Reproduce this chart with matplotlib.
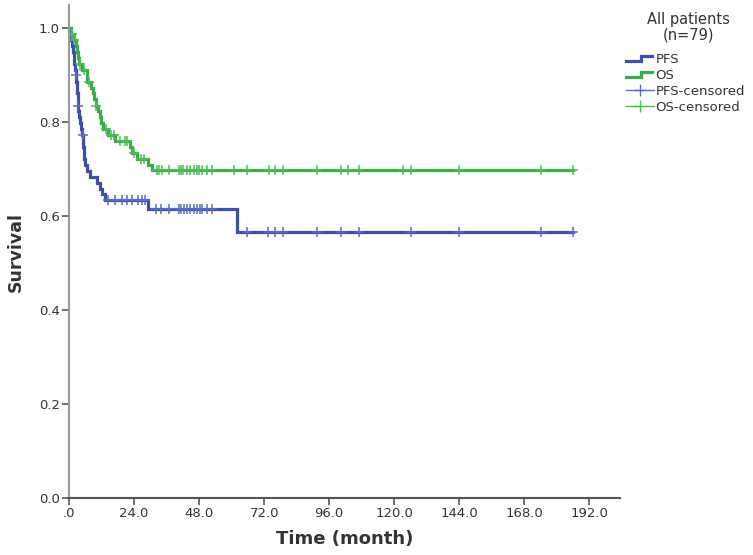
import numpy as np
import matplotlib
matplotlib.use("Agg")
import matplotlib.pyplot as plt
from matplotlib.legend_handler import HandlerBase
from matplotlib.lines import Line2D

# ---- data (months, survival) ----
pfs_times = [0, 0.5, 0.9, 1.2, 1.5, 1.8, 2.0, 2.2, 2.4, 2.6, 2.85, 3.0, 3.2, 3.3, 3.4,
             3.8, 4.2, 4.6, 4.9, 5.1, 5.3, 5.5, 5.7, 5.9, 6.6, 7.6, 10.2, 11.4, 12.3,
             13.2, 29.3, 62.0, 186.0]
pfs_surv = [1.0, 0.987, 0.975, 0.962, 0.949, 0.937, 0.924, 0.911, 0.899, 0.886, 0.873,
            0.861, 0.848, 0.835, 0.823, 0.810, 0.797, 0.785, 0.772, 0.759, 0.747, 0.734,
            0.722, 0.709, 0.696, 0.684, 0.671, 0.658, 0.646, 0.634, 0.615, 0.567, 0.567]
pfs_censored = [0.8, 2.4, 3.3, 5.0, 14.5, 17.0, 19.4, 21.3, 23.1, 25.6, 26.8, 28.0,
                32.1, 33.8, 36.8, 40.7, 41.4, 42.4, 43.4, 44.6, 46.1, 47.1, 48.3, 49.1,
                50.8, 52.8, 65.8, 73.4, 75.9, 78.9, 91.4, 100.5, 106.9, 126.1, 144.0,
                174.0, 186.0]

os_times = [0, 0.8, 1.8, 2.5, 3.0, 3.4, 3.8, 4.8, 6.5, 6.8, 8.0, 8.8, 9.1, 9.8, 10.8,
            11.3, 11.8, 12.6, 14.5, 17.0, 22.5, 23.4, 25.2, 29.0, 30.5, 186.0]
os_surv = [1.0, 0.987, 0.975, 0.962, 0.949, 0.937, 0.924, 0.911, 0.899, 0.886, 0.873,
           0.861, 0.848, 0.835, 0.823, 0.810, 0.797, 0.785, 0.772, 0.759, 0.747, 0.734,
           0.722, 0.709, 0.698, 0.698]
os_censored = [1.0, 2.0, 4.2, 5.5, 7.5, 10.0, 13.5, 15.5, 16.5, 19.0, 20.5, 21.5, 24.0,
               26.5, 27.5, 32.4, 33.3, 34.3, 36.8, 40.7, 41.4, 42.2, 43.4, 44.6, 46.1,
               47.1, 48.1, 49.1, 50.8, 52.8, 60.9, 65.8, 73.7, 76.1, 79.1, 91.4, 100.5,
               102.9, 106.9, 123.4, 126.1, 144.0, 174.0, 186.0]

x_ticks = [0, 24, 48, 72, 96, 120, 144, 168, 192]
x_tick_labels = [".0", "24.0", "48.0", "72.0", "96.0", "120.0", "144.0", "168.0", "192.0"]
y_ticks = [0.0, 0.2, 0.4, 0.6, 0.8, 1.0]
y_tick_labels = ["0.0", "0.2", "0.4", "0.6", "0.8", "1.0"]

PFS_COLOR = "#3d50a8"
OS_COLOR = "#3aad48"
PFS_CENS = "#5a6cc2"
OS_CENS = "#4fbb58"


def step_value(times, surv, t):
    idx = np.searchsorted(np.asarray(times), t, side="right") - 1
    return np.asarray(surv)[idx]


fig = plt.figure(figsize=(7.53, 5.55), dpi=100)
ax = fig.add_axes([69 / 753, 57 / 555, (620 - 69) / 753, (498 - 5) / 555])

ax.step(pfs_times, pfs_surv, where="post", color=PFS_COLOR, lw=2.3, solid_joinstyle="miter")
ax.step(os_times, os_surv, where="post", color=OS_COLOR, lw=2.3, solid_joinstyle="miter")
ax.plot(pfs_censored, step_value(pfs_times, pfs_surv, pfs_censored), ls="none",
        marker="+", ms=7, mew=1.1, color=PFS_CENS)
ax.plot(os_censored, step_value(os_times, os_surv, os_censored), ls="none",
        marker="+", ms=7, mew=1.1, color=OS_CENS)

ax.set_xlim(0, 203.3)
ax.set_ylim(0, 1.049)
ax.set_xticks(x_ticks)
ax.set_xticklabels(x_tick_labels)
ax.set_yticks(y_ticks)
ax.set_yticklabels(y_tick_labels)

for s in ["top", "right"]:
    ax.spines[s].set_visible(False)
ax.spines["left"].set_color("#9a9a9a")
ax.spines["bottom"].set_color("#555555")
ax.spines["left"].set_linewidth(1.5)
ax.spines["bottom"].set_linewidth(1.5)
ax.tick_params(axis="both", direction="out", length=5, width=1.2, color="#555555",
               labelsize=9.5, labelcolor="#333333", pad=1.5)

ax.set_xlabel("Time (month)", fontsize=13, fontweight="bold", color="#333333", labelpad=7)
ax.set_ylabel("Survival", fontsize=12.5, fontweight="bold", color="#333333", labelpad=10)


class StepHandler(HandlerBase):
    def create_artists(self, legend, orig_handle, xdescent, ydescent, width, height,
                       fontsize, trans):
        x0 = -xdescent
        y0 = -ydescent
        xs = [x0, x0 + width * 0.55, x0 + width * 0.55, x0 + width * 0.95]
        ys = [y0 + height * 0.25, y0 + height * 0.25, y0 + height * 0.8, y0 + height * 0.8]
        ln = Line2D(xs, ys, color=orig_handle.get_color(), lw=2.3,
                    solid_joinstyle="miter")
        ln.set_transform(trans)
        return [ln]


fig.text(688 / 753, 1 - 27 / 555, "All patients\n(n=79)", ha="center", va="center",
         fontsize=10.5, color="#333333", linespacing=1.05)

h_pfs = Line2D([], [], color=PFS_COLOR)
h_os = Line2D([], [], color=OS_COLOR)
h_pfs_c = Line2D([], [], color=PFS_CENS, marker="+", ms=9, mew=1.0, lw=1.0)
h_os_c = Line2D([], [], color=OS_CENS, marker="+", ms=9, mew=1.0, lw=1.0)

leg = fig.legend([h_pfs, h_os, h_pfs_c, h_os_c],
                 ["PFS", "OS", "PFS-censored", "OS-censored"],
                 loc="upper left", bbox_to_anchor=(626 / 753, 1 - 53 / 555),
                 frameon=False, fontsize=9.5, handlelength=2.1, handletextpad=0.15,
                 labelspacing=0.22, borderpad=0.0, borderaxespad=0.0,
                 handler_map={h_pfs: StepHandler(), h_os: StepHandler()})
for t in leg.get_texts():
    t.set_color("#333333")

fig.savefig("out.png", dpi=100)
